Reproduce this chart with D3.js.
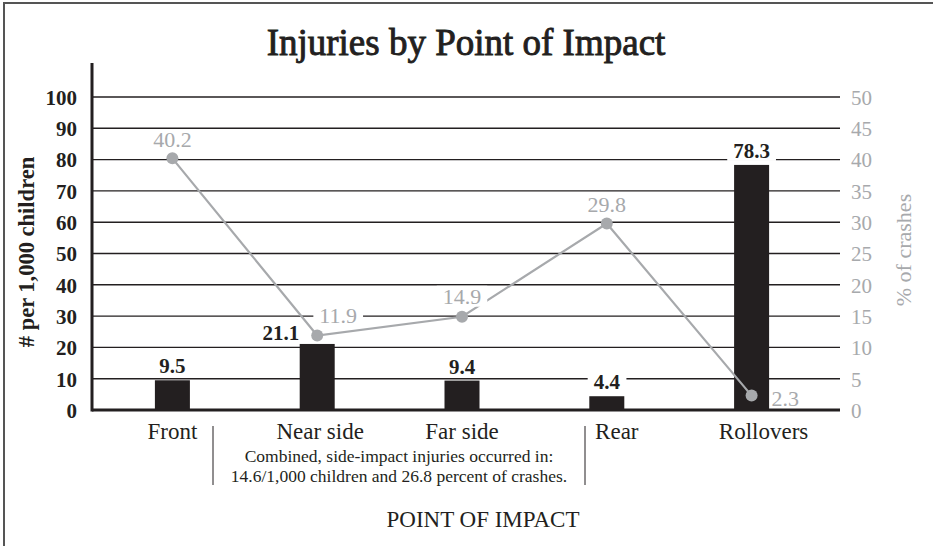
<!DOCTYPE html>
<html><head><meta charset="utf-8">
<script src="https://cdn.jsdelivr.net/npm/d3@7"></script>
<style>
html,body{margin:0;padding:0;background:#fff;}
svg{display:block;font-family:"Liberation Serif","DejaVu Serif",serif;}
</style></head>
<body>
<svg id="chart" width="933" height="546"></svg>
<script>
// ---- data ----
const categories = ["Front", "Near side", "Far side", "Rear", "Rollovers"];
const injuriesPer1000 = [9.5, 21.1, 9.4, 4.4, 78.3];
const pctCrashes = [40.2, 11.9, 14.9, 29.8, 2.3];
const leftTicks = [0, 10, 20, 30, 40, 50, 60, 70, 80, 90, 100];
const rightTicks = [0, 5, 10, 15, 20, 25, 30, 35, 40, 45, 50];
const title = "Injuries by Point of Impact";
const leftTitle = "# per 1,000 children";
const rightTitle = "% of crashes";
const xTitle = "POINT OF IMPACT";
const noteLines = ["Combined, side-impact injuries occurred in:", "14.6/1,000 children and 26.8 percent of crashes."];

// ---- styles ----
const INK = "#231f20", GREY = "#a7a9ac";
const svg = d3.select("#chart");
const plotLeft = 92, plotRight = 840, plotTop = 63, plotBottom = 410;

// frame
svg.append("rect").attr("x", 4).attr("y", 3).attr("width", 1000).attr("height", 1000)
  .attr("fill", "none").attr("stroke", "#555").attr("stroke-width", 2);

// scales
const x = d3.scalePoint().domain(categories).range([100, 824]).padding(0.5);
const yL = d3.scaleLinear().domain([0, 100]).range([plotBottom, 97]);
const yR = d3.scaleLinear().domain([0, 50]).range([plotBottom, 97]);

// title (semi-bold look)
svg.append("text").attr("x", 466).attr("y", 55).attr("text-anchor", "middle")
  .attr("font-size", 37).attr("fill", INK).attr("stroke", INK).attr("stroke-width", 0.9)
  .text(title);

// gridlines
svg.append("g").selectAll("line").data(leftTicks.filter(d => d > 0)).join("line")
  .attr("x1", plotLeft).attr("x2", plotRight)
  .attr("y1", d => yL(d)).attr("y2", d => yL(d))
  .attr("stroke", INK).attr("stroke-width", 1.4);

// left axis
const leftAxis = d3.axisLeft(yL).tickValues(leftTicks).tickSize(0).tickPadding(15);
const gL = svg.append("g").attr("transform", `translate(${plotLeft},0)`).call(leftAxis);
gL.select(".domain").remove();
gL.selectAll("text").attr("font-size", 21).attr("font-weight", "bold").attr("fill", INK)
  .attr("font-family", "Liberation Serif").attr("dy", "0.35em");

// right axis
const rightAxis = d3.axisRight(yR).tickValues(rightTicks).tickSize(0).tickPadding(11);
const gR = svg.append("g").attr("transform", `translate(${plotRight},0)`).call(rightAxis);
gR.select(".domain").remove();
gR.selectAll("text").attr("font-size", 21).attr("fill", GREY)
  .attr("font-family", "Liberation Serif").attr("dy", "0.35em");

// axis lines
svg.append("line").attr("x1", plotLeft).attr("x2", plotLeft).attr("y1", plotTop).attr("y2", plotBottom + 1.5)
  .attr("stroke", INK).attr("stroke-width", 3);
svg.append("line").attr("x1", plotLeft).attr("x2", plotRight).attr("y1", plotBottom).attr("y2", plotBottom)
  .attr("stroke", INK).attr("stroke-width", 3);

// bars
const barW = 35;
svg.append("g").selectAll("rect").data(categories).join("rect")
  .attr("x", d => x(d) - barW / 2).attr("width", barW)
  .attr("y", (d, i) => yL(injuriesPer1000[i]))
  .attr("height", (d, i) => plotBottom - yL(injuriesPer1000[i]))
  .attr("fill", INK);

// line
const lineGen = d3.line().x((d, i) => x(categories[i])).y(d => yR(d));
svg.append("path").datum(pctCrashes).attr("d", lineGen)
  .attr("fill", "none").attr("stroke", GREY).attr("stroke-width", 2.2);
svg.append("g").selectAll("circle").data(pctCrashes).join("circle")
  .attr("cx", (d, i) => x(categories[i])).attr("cy", d => yR(d)).attr("r", 6)
  .attr("fill", GREY);

// labels with white knockout
function label(g, tx, ty, txt, opts) {
  const t = g.append("text").attr("x", tx).attr("y", ty)
    .attr("text-anchor", opts.anchor || "middle")
    .attr("font-size", opts.size || 21).attr("font-weight", opts.bold ? "bold" : "normal")
    .attr("fill", opts.color).text(txt);
  if (opts.knock) {
    const b = t.node().getBBox();
    g.insert("rect", "text").attr("x", b.x - 6).attr("y", b.y + 2).attr("width", b.width + 12)
      .attr("height", b.height - 4).attr("fill", "#fff");
  }
}
const lblG = svg.append("g");
// bar value labels
const barLabelPos = [
  {dx: 0, dy: -7, anchor: "middle"},
  {dx: -18, dy: -4, anchor: "end"},
  {dx: 0, dy: -7, anchor: "middle"},
  {dx: 0, dy: -7, anchor: "middle"},
  {dx: 0, dy: -7, anchor: "middle"}
];
injuriesPer1000.forEach((v, i) => {
  const p = barLabelPos[i];
  const g = lblG.append("g");
  label(g, x(categories[i]) + p.dx, yL(v) + p.dy, v.toFixed(1),
    {bold: true, color: INK, anchor: p.anchor, knock: true, size: 21});
});
// line value labels
const lineLabelPos = [
  {dx: 0, dy: -11, anchor: "middle", knock: true},
  {dx: 21, dy: -13, anchor: "middle", knock: true},
  {dx: 0, dy: -13, anchor: "middle", knock: true},
  {dx: 0, dy: -11, anchor: "middle", knock: true},
  {dx: 20, dy: 10, anchor: "start", knock: false}
];
pctCrashes.forEach((v, i) => {
  const p = lineLabelPos[i];
  const g = lblG.append("g");
  label(g, x(categories[i]) + p.dx, yR(v) + p.dy, v.toFixed(1),
    {bold: false, color: GREY, anchor: p.anchor, knock: p.knock, size: 22});
});

// category labels
const catShift = {"Rear": 10, "Rollovers": 12, "Near side": 3};
svg.append("g").selectAll("text").data(categories).join("text")
  .attr("x", d => x(d) + (catShift[d] || 0)).attr("y", 439)
  .attr("text-anchor", "middle").attr("font-size", 23).attr("fill", INK).text(d => d);

// separators and note
[213, 585].forEach(sx => {
  svg.append("line").attr("x1", sx).attr("x2", sx).attr("y1", 426).attr("y2", 485)
    .attr("stroke", INK).attr("stroke-width", 1);
});
noteLines.forEach((t, i) => {
  svg.append("text").attr("x", 399).attr("y", 462 + i * 20).attr("text-anchor", "middle")
    .attr("font-size", 17.5).attr("fill", INK).text(t);
});

// axis titles
svg.append("text").attr("x", 483).attr("y", 527).attr("text-anchor", "middle")
  .attr("font-size", 23).attr("fill", INK).text(xTitle);
svg.append("text").attr("transform", "translate(34,252) rotate(-90)").attr("text-anchor", "middle")
  .attr("font-size", 22.5).attr("font-weight", "bold").attr("fill", INK).text(leftTitle);
svg.append("text").attr("transform", "translate(911,250) rotate(-90)").attr("text-anchor", "middle")
  .attr("font-size", 22).attr("fill", GREY).text(rightTitle);
</script>
</body></html>
